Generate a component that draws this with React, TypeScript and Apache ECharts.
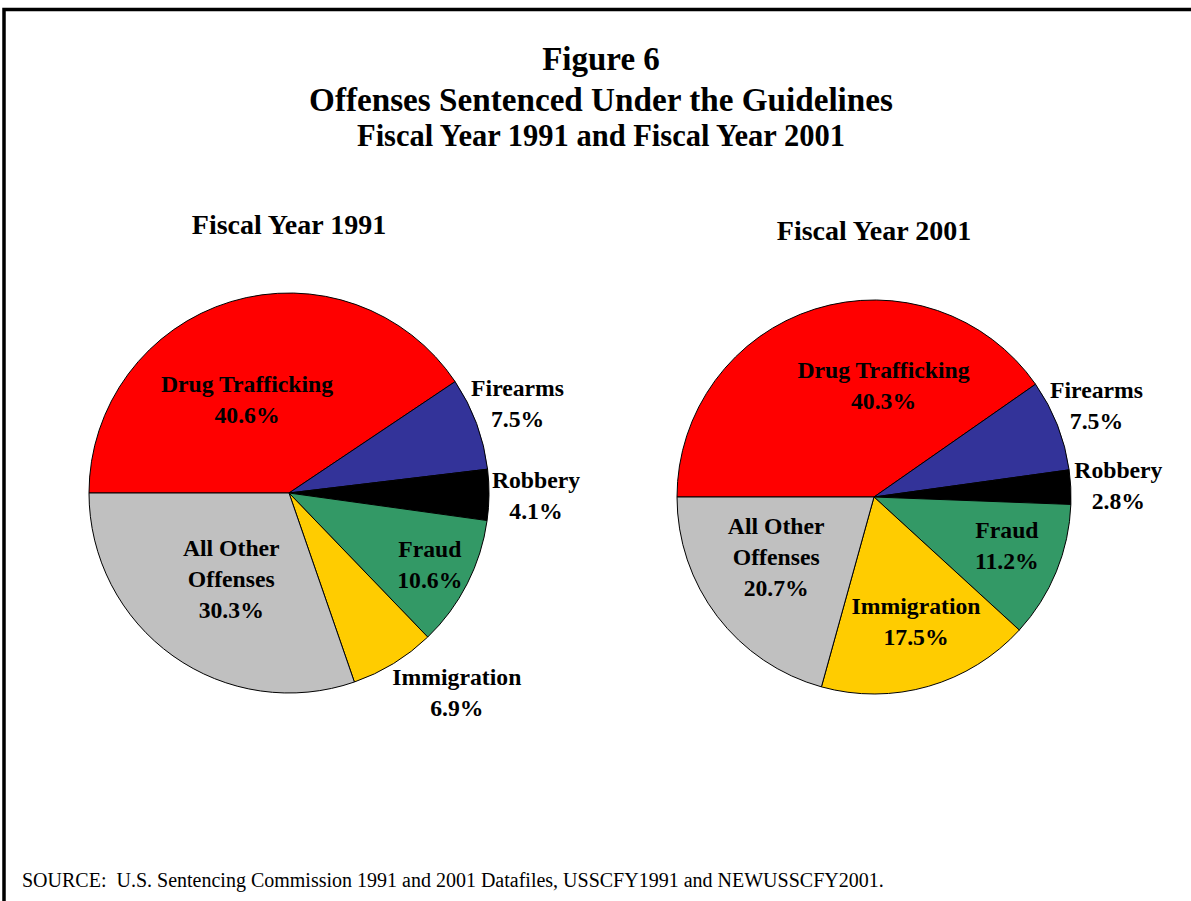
import React, { useEffect, useRef } from "react";
import * as echarts from "echarts";

const categories = ["Drug Trafficking", "Firearms", "Robbery", "Fraud", "Immigration", "All Other Offenses"];
const labelNames = ["Drug Trafficking", "Firearms", "Robbery", "Fraud", "Immigration", "All Other\nOffenses"];
const values1991 = [40.6, 7.5, 4.1, 10.6, 6.9, 30.3];
const values2001 = [40.3, 7.5, 2.8, 11.2, 17.5, 20.7];
const colors = ["#FF0000", "#333399", "#000000", "#339966", "#FFCC00", "#C0C0C0"];

const titleLines = ["Figure 6", "Offenses Sentenced Under the Guidelines", "Fiscal Year 1991 and Fiscal Year 2001"];
const pieTitles = ["Fiscal Year 1991", "Fiscal Year 2001"];
const sourceText = "SOURCE:  U.S. Sentencing Commission 1991 and 2001 Datafiles, USSCFY1991 and NEWUSSCFY2001.";

// label offsets (layout only)
const offsets1991 = [[-12, 5], [132, -54], [144, 2], [49, 25], [114, 112], [2, 2.5]];
const offsets2001 = [[40, -14.5], [128, -54], [143, -6.5], [39, 10], [14, 27], [-17, -1.5]];

const FONT = "'Liberation Serif', 'Times New Roman', serif";

function buildData(values: number[], offsets: number[][]) {
  return categories.map((c, i) => ({
    name: c,
    value: values[i],
    itemStyle: { color: colors[i] },
    label: {
      offset: offsets[i],
      formatter: () => `${labelNames[i]}\n${values[i].toFixed(1)}%`,
    },
  }));
}

export default function App() {
  const ref = useRef<HTMLDivElement>(null);
  useEffect(() => {
    if (!ref.current) return;
    const chart = echarts.init(ref.current, null, { renderer: "svg" });
    const pieBase = {
      type: "pie",
      startAngle: 180,
      clockwise: true,
      avoidLabelOverlap: false,
      silent: true,
      labelLine: { show: false },
      emphasis: { disabled: true },
      itemStyle: { borderColor: "#000", borderWidth: 1 },
      label: {
        show: true,
        position: "inside",
        fontFamily: FONT,
        fontWeight: "bold",
        fontSize: 23.7,
        lineHeight: 31,
        color: "#000",
        align: "center",
        verticalAlign: "middle",
      },
    };
    chart.setOption({
      animation: false,
      backgroundColor: "#fff",
      graphic: [
        {
          type: "rect",
          shape: { x: 4, y: 9.5, width: 1400, height: 1200 },
          style: { fill: "none", stroke: "#000", lineWidth: 3.5 },
          silent: true,
        },
        { type: "text", x: 601, y: 59, style: { text: titleLines[0], font: `bold 33px ${FONT}`, fill: "#000", textAlign: "center", textVerticalAlign: "middle" } },
        { type: "text", x: 601, y: 99, style: { text: titleLines[1], font: `bold 33.2px ${FONT}`, fill: "#000", textAlign: "center", textVerticalAlign: "middle" } },
        { type: "text", x: 601, y: 136, style: { text: titleLines[2], font: `bold 30.5px ${FONT}`, fill: "#000", textAlign: "center", textVerticalAlign: "middle" } },
        { type: "text", x: 289, y: 224, style: { text: pieTitles[0], font: `bold 28px ${FONT}`, fill: "#000", textAlign: "center", textVerticalAlign: "middle" } },
        { type: "text", x: 874, y: 230, style: { text: pieTitles[1], font: `bold 28px ${FONT}`, fill: "#000", textAlign: "center", textVerticalAlign: "middle" } },
        { type: "text", x: 22, y: 880, style: { text: sourceText, font: `20px ${FONT}`, fill: "#000", textAlign: "left", textVerticalAlign: "middle" } },
      ],
      series: [
        { ...pieBase, center: [289, 493], radius: 200, data: buildData(values1991, offsets1991) },
        { ...pieBase, center: [874, 497], radius: 197, data: buildData(values2001, offsets2001) },
      ],
    });
    return () => chart.dispose();
  }, []);
  return <div ref={ref} style={{ position: "fixed", left: 0, top: 0, width: 1191, height: 901 }} />;
}
